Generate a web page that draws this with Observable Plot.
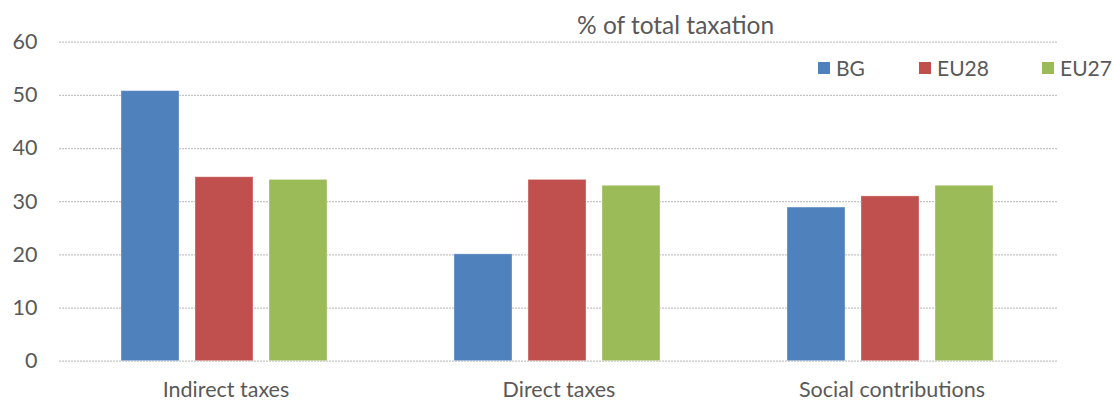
<!DOCTYPE html>
<html><head><meta charset="utf-8">
<script src="https://cdn.jsdelivr.net/npm/d3@7"></script>
<script src="https://cdn.jsdelivr.net/npm/@observablehq/plot@0.6"></script>
<style>
body{margin:0;background:#fff;font-family:Lato,"Open Sans",sans-serif;color:#595959}
#wrap{position:relative;width:1113px;height:402px;overflow:hidden}
#title{position:absolute;left:577px;top:10px;font-size:24.5px;white-space:nowrap;line-height:30px}
#legend{position:absolute;top:54px;left:0;width:1113px;height:28px}
.item{position:absolute;display:flex;align-items:center;font-size:21px;line-height:28px;white-space:nowrap}
.sw{width:12px;height:12px;margin-right:6px;display:inline-block}
</style></head><body>
<div id="wrap"><div id="chart"></div><div id="title">% of total taxation</div><div id="legend"></div></div>
<script>
const categories = ["Indirect taxes", "Direct taxes", "Social contributions"];
const series = ["BG", "EU28", "EU27"];
const bgValues = [50.8, 20.1, 28.9];
const eu28Values = [34.6, 34.1, 31.0];
const eu27Values = [34.1, 33.0, 33.0];
const colors = ["#4F81BD", "#C0504D", "#9BBB59"];
const yTicks = [0, 10, 20, 30, 40, 50, 60];
const legendLeft = [818, 919, 1042];

const valuesBySeries = [bgValues, eu28Values, eu27Values];
const data = [];
categories.forEach((c, i) => series.forEach((s, j) => data.push({category: c, series: s, value: valuesBySeries[j][i]})));

const chart = Plot.plot({
  width: 1113, height: 402,
  marginTop: 41.7, marginBottom: 41.3, marginLeft: 58, marginRight: 55,
  style: {fontFamily: "Lato, sans-serif", fontSize: "21.5px", color: "#595959", background: "#fff"},
  fx: {domain: categories, padding: 0, label: null, axis: "bottom", tickSize: 0, tickPadding: 21},
  x: {domain: series, paddingInner: 0.22, paddingOuter: 0.845, align: 0.49, axis: null},
  y: {domain: [0, 60], ticks: yTicks, tickSize: 0, tickPadding: 22, label: null},
  color: {domain: series, range: colors},
  marks: [
    Plot.ruleY(yTicks, {stroke: "#c4c4c4", strokeWidth: 1.3, strokeDasharray: "2,1"}),
    Plot.barY(data, {fx: "category", x: "series", y: "value", fill: "series", stroke: "#ffffff", strokeOpacity: 0.35, strokeWidth: 1})
  ]
});
document.getElementById("chart").appendChild(chart);

const legend = document.getElementById("legend");
series.forEach((s, i) => {
  const d = document.createElement("div");
  d.className = "item";
  d.style.left = legendLeft[i] + "px";
  d.innerHTML = `<span class="sw" style="background:${colors[i]}"></span>${s}`;
  legend.appendChild(d);
});
</script>
</body></html>
